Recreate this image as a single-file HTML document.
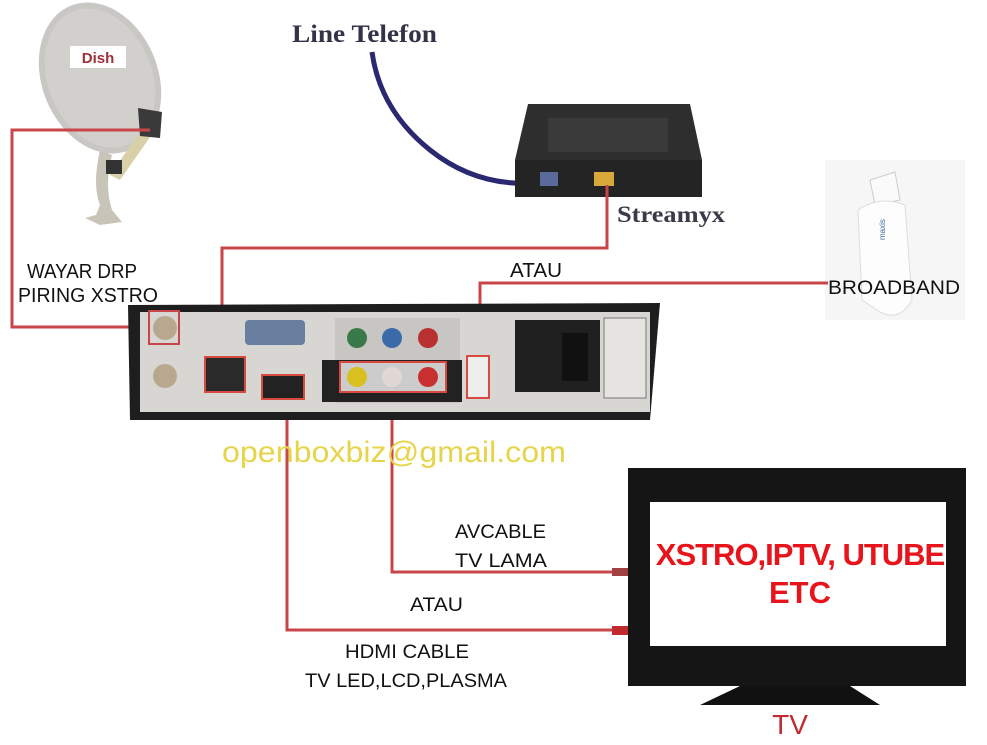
<!DOCTYPE html>
<html><head><meta charset="utf-8"><style>
html,body{margin:0;padding:0;background:#fff;width:987px;height:745px;overflow:hidden}
svg{display:block}
.s{font-family:"Liberation Sans",sans-serif}
.r{font-family:"Liberation Serif",serif}
</style></head><body>
<svg width="987" height="745" viewBox="0 0 987 745" xmlns="http://www.w3.org/2000/svg">
<rect width="987" height="745" fill="#fff"/>
<!-- Dish -->
<g>
<path d="M100 150 Q92 185 100 205 L96 215 L85 218 L100 225 L122 222 L112 210 Q104 185 112 155 Z" fill="#c8c4b8"/>
<ellipse cx="100" cy="78" rx="58" ry="78" transform="rotate(-22 100 78)" fill="#c9c7c4"/>
<ellipse cx="100" cy="78" rx="52" ry="72" transform="rotate(-22 100 78)" fill="#d2d0cd"/>
<rect x="70" y="46" width="56" height="22" fill="#fff"/>
<text class="s" x="98" y="63" font-size="15" font-weight="bold" fill="#a03038" text-anchor="middle">Dish</text>
<path d="M110 175 L145 125 L155 130 L120 180 Z" fill="#d9cfa8"/>
<path d="M138 108 L162 112 L160 138 L140 136 Z" fill="#3a3a3a"/>
<rect x="106" y="160" width="16" height="14" fill="#333"/>
</g>
<!-- Phone cable -->
<path d="M372 52 Q380 110 430 150 Q480 190 545 182" stroke="#2a2870" stroke-width="5" fill="none"/>
<text class="r" x="292" y="42" font-size="25" font-weight="bold" fill="#333348" textLength="145" lengthAdjust="spacingAndGlyphs">Line Telefon</text>
<!-- Router -->
<path d="M528 104 L690 104 L702 160 L515 160 Z" fill="#2e2e2e"/>
<rect x="548" y="118" width="120" height="34" fill="#3a3a3a"/>
<rect x="515" y="160" width="187" height="37" fill="#242424"/>
<rect x="540" y="172" width="18" height="14" fill="#5a6a9a"/>
<rect x="594" y="172" width="20" height="14" fill="#d9a83a"/>
<text class="r" x="617" y="222" font-size="23" font-weight="bold" fill="#3a3a48" textLength="108" lengthAdjust="spacingAndGlyphs">Streamyx</text>
<!-- Dongle -->
<rect x="825" y="160" width="140" height="160" fill="#f6f6f6"/>
<path d="M870 180 L895 172 L900 200 L875 205 Z" fill="#fafafa" stroke="#ccc"/>
<path d="M858 210 Q880 195 905 205 L912 300 Q900 322 880 312 L862 300 Z" fill="#fdfdfd" stroke="#ddd"/>
<text class="s" x="885" y="240" font-size="8" fill="#3a6aa0" transform="rotate(-90 885 240)">maxis</text>
<text class="s" x="828" y="294" font-size="19" fill="#111" textLength="132" lengthAdjust="spacingAndGlyphs">BROADBAND</text>
<!-- Red lines -->
<g stroke="#c8464a" stroke-width="3" fill="none">
<path d="M150 130 L12 130 L12 327 L160 327"/>
<path d="M222 372 L222 248 L607 248 L607 185"/>
<path d="M480 355 L480 283 L828 283"/>
<path d="M287 400 L287 630 L615 630"/>
<path d="M392 385 L392 572 L615 572"/>
</g>
<rect x="612" y="568" width="26" height="8" fill="#a04040"/>
<rect x="612" y="626" width="28" height="9" fill="#c02a30"/>
<!-- Receiver -->
<path d="M128 305 L660 303 L650 420 L130 420 Z" fill="#1e1e1e"/>
<rect x="140" y="312" width="510" height="100" fill="#d8d6d2"/>
<rect x="515" y="320" width="85" height="72" fill="#202020"/>
<rect x="562" y="333" width="26" height="48" fill="#111"/>
<rect x="604" y="318" width="42" height="80" fill="#e6e4e0" stroke="#777"/>
<circle cx="165" cy="328" r="12" fill="#b8a890"/>
<circle cx="165" cy="376" r="12" fill="#b8a890"/>
<rect x="149" y="311" width="30" height="33" fill="none" stroke="#c8464a" stroke-width="2"/>
<rect x="245" y="320" width="60" height="25" rx="4" fill="#6a7ea0"/>
<rect x="205" y="357" width="40" height="35" fill="#2a2a2a" stroke="#d84a40" stroke-width="2"/>
<rect x="262" y="375" width="42" height="24" fill="#222" stroke="#d84a40" stroke-width="2"/>
<rect x="335" y="318" width="125" height="85" fill="#c8c6c2"/>
<circle cx="357" cy="338" r="10" fill="#3a7a4a"/><circle cx="392" cy="338" r="10" fill="#3a6aa8"/><circle cx="428" cy="338" r="10" fill="#b83030"/>
<rect x="322" y="360" width="140" height="42" fill="#222"/>
<rect x="340" y="362" width="106" height="30" fill="#ccc" stroke="#d84a40" stroke-width="2"/>
<circle cx="357" cy="377" r="10" fill="#d8c020"/><circle cx="392" cy="377" r="10" fill="#e0d8d4"/><circle cx="428" cy="377" r="10" fill="#c83030"/>
<rect x="467" y="356" width="22" height="42" fill="#eee" stroke="#d84a40" stroke-width="2"/>
<text class="s" x="27" y="278" font-size="20" fill="#111" textLength="110" lengthAdjust="spacingAndGlyphs">WAYAR DRP</text>
<text class="s" x="18" y="302" font-size="20" fill="#111" textLength="140" lengthAdjust="spacingAndGlyphs">PIRING XSTRO</text>
<text class="s" x="510" y="277" font-size="20" fill="#111" textLength="52" lengthAdjust="spacingAndGlyphs">ATAU</text>
<text class="s" x="222" y="462" font-size="30" fill="#e6d44a" textLength="344" lengthAdjust="spacingAndGlyphs">openboxbiz@gmail.com</text>
<!-- TV -->
<rect x="628" y="468" width="338" height="218" fill="#151515"/>
<rect x="650" y="502" width="296" height="144" fill="#fff"/>
<path d="M740 686 L850 686 L880 705 L700 705 Z" fill="#111"/>
<text class="s" x="800" y="565" font-size="31" font-weight="bold" fill="#e8141c" text-anchor="middle" letter-spacing="-1">XSTRO,IPTV, UTUBE</text>
<text class="s" x="800" y="603" font-size="31" font-weight="bold" fill="#e8141c" text-anchor="middle">ETC</text>
<text class="s" x="790" y="734" font-size="28" fill="#c02a30" text-anchor="middle">TV</text>
<text class="s" x="455" y="538" font-size="19" fill="#111" textLength="91" lengthAdjust="spacingAndGlyphs">AVCABLE</text>
<text class="s" x="455" y="567" font-size="19" fill="#111" textLength="92" lengthAdjust="spacingAndGlyphs">TV LAMA</text>
<text class="s" x="410" y="611" font-size="19" fill="#111" textLength="53" lengthAdjust="spacingAndGlyphs">ATAU</text>
<text class="s" x="345" y="658" font-size="19" fill="#111" textLength="124" lengthAdjust="spacingAndGlyphs">HDMI CABLE</text>
<text class="s" x="305" y="687" font-size="19" fill="#111" textLength="202" lengthAdjust="spacingAndGlyphs">TV LED,LCD,PLASMA</text>
</svg>
</body></html>
